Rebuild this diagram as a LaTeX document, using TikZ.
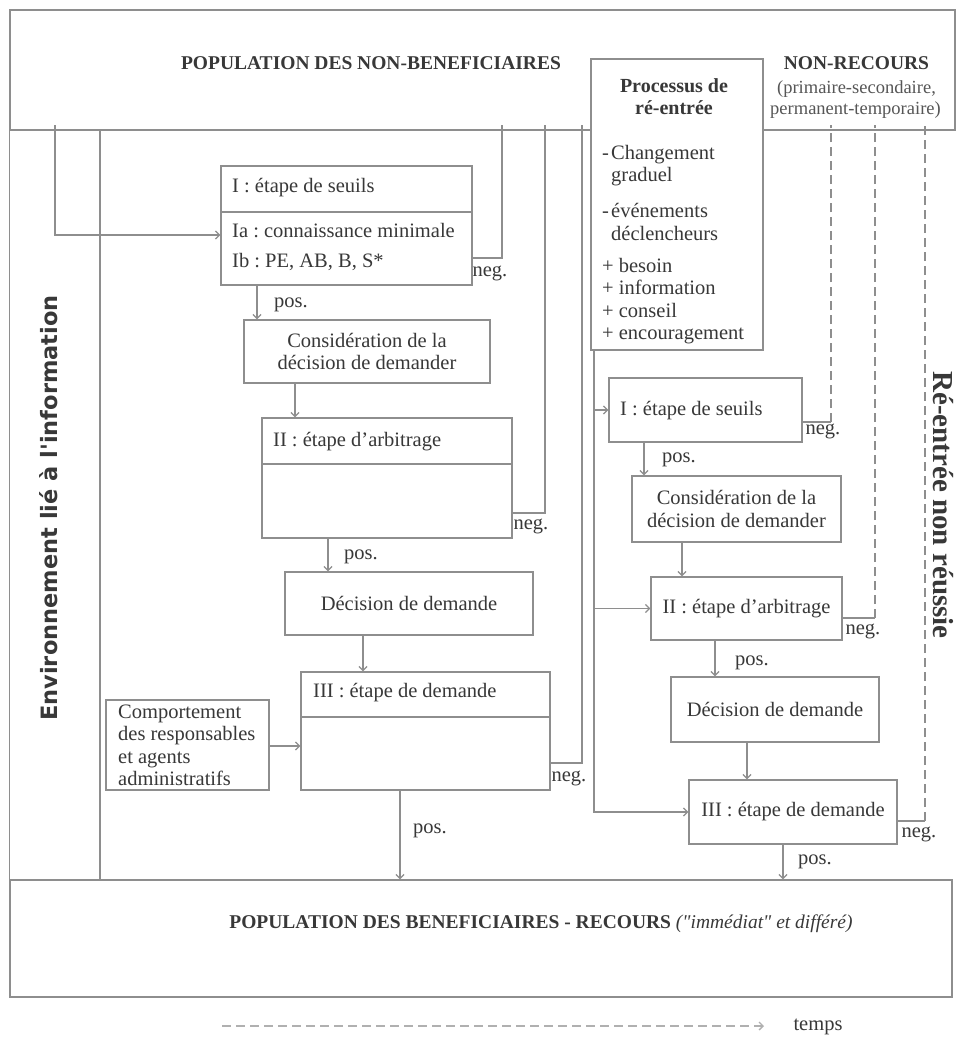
\documentclass[tikz,border=0pt]{standalone}
\usepackage{fontspec}
\setmainfont{Liberation Serif}
\newfontfamily\envfont{DejaVu Sans}
\usetikzlibrary{arrows.meta}
\frenchspacing
\definecolor{linec}{HTML}{8E8E8E}
\definecolor{textc}{HTML}{383838}
\newcommand\bodyfont{\fontsize{20.5}{22.5}\selectfont}
\newcommand\smallfnt{\fontsize{18.5}{21}\selectfont}
\newcommand\titlefnt{\fontsize{19.5}{22}\selectfont\bfseries}
\newcommand\sq{{\addfontfeatures{Ligatures=TeXOff}"}}
\tikzset{
  line/.style={draw=linec, line width=1.3pt},
  box/.style={draw=linec, line width=1.3pt, fill=white, inner sep=0pt, text=textc, font=\bodyfont, align=center},
  arr/.style={line, -{Straight Barb[length=4pt,width=8pt]}},
  dline/.style={line, dash pattern=on 9pt off 5pt},
  txt/.style={text=textc, inner sep=0pt, font=\bodyfont, text height=13.5pt, text depth=4.5pt},
  ttl/.style={text=textc, inner sep=0pt, font=\titlefnt, text height=13.5pt, text depth=4.5pt},
  sml/.style={text=textc!85, inner sep=0pt, font=\smallfnt, text height=12.5pt, text depth=4pt},
}
\begin{document}
\begin{tikzpicture}[x=1pt,y=-1pt]
\useasboundingbox[fill=white] (0,0) rectangle (957,1037);

% ---------- frames ----------
\node[box, minimum width=945pt, minimum height=120pt] (top) at (482.5,70) {};
\node[box, minimum width=942pt, minimum height=117pt] (bot) at (481,938.5) {};
\draw[line] (top.south west) -- (bot.north west);
\coordinate (envT) at (100,130);
\coordinate (envB) at (100,880);
\draw[line] (envT) -- (envB);

% ---------- top texts ----------
\node[ttl] (toptitle) at (371,65) {POPULATION DES NON-BENEFICIAIRES};
\node[ttl] (nonrec) at (856.5,65) {NON-RECOURS};
\node[sml] (nonrecA) at (856.5,89) {(primaire-secondaire,};
\node[sml] (nonrecB) at (855.5,110) {permanent-temporaire)};

% ---------- feedback lines to top ----------
\coordinate (e1) at (55,125);
\coordinate (n1) at (502,125);
\coordinate (n2) at (545,125);
\coordinate (n3) at (582,125);
\coordinate (d1) at (831,125);
\coordinate (d2) at (875,125);
\coordinate (d3) at (925,125);

% ---------- Processus box ----------
\node[box, minimum width=172pt, minimum height=291pt] (proc) at (677,204.5) {};
\node[ttl, font=\fontsize{20}{22}\selectfont\bfseries] (procA) at (674,88) {Processus de};
\node[ttl, font=\fontsize{20}{22}\selectfont\bfseries] (procB) at (674,110) {ré-entrée};
\node[txt, anchor=west] (p1a) at (602,155) {-};
\node[txt, anchor=west] (p1b) at (611,155) {Changement};
\node[txt, anchor=west] (p1c) at (611,177) {graduel};
\node[txt, anchor=west] (p2a) at (602,213) {-};
\node[txt, anchor=west] (p2b) at (611,213) {événements};
\node[txt, anchor=west] (p2c) at (611,236) {déclencheurs};
\node[txt, anchor=west] (p3) at (602,268) {+ besoin};
\node[txt, anchor=west] (p4) at (602,290) {+ information};
\node[txt, anchor=west] (p5) at (602,313) {+ conseil};
\node[txt, anchor=west] (p6) at (602,335) {+ encouragement};

% ---------- left column ----------
\node[box, minimum width=251pt, minimum height=119pt] (boxI) at (346.5,225.5) {};
\draw[line] (boxI.west |- 0,212) -- (boxI.east |- 0,212);
\node[txt, anchor=west] (boxIa) at (232,188) {I : étape de seuils};
\node[txt, anchor=west] (boxIb) at (232,233) {Ia : connaissance minimale};
\node[txt, anchor=west] (boxIc) at (232,263) {Ib : PE, AB, B, S*};

\node[box, minimum width=246pt, minimum height=63pt] (consL) at (367,351.5) {Considération de la\\décision de demander};

\node[box, minimum width=250pt, minimum height=120pt] (boxII) at (387,478) {};
\draw[line] (boxII.west |- 0,464) -- (boxII.east |- 0,464);
\node[txt, anchor=west] (boxIIa) at (273,442) {II : étape d'arbitrage};

\node[box, minimum width=248pt, minimum height=63pt] (decL) at (409,603.5) {Décision de demande};

\node[box, minimum width=249pt, minimum height=118pt] (boxIII) at (425.5,731) {};
\draw[line] (boxIII.west |- 0,717) -- (boxIII.east |- 0,717);
\node[txt, anchor=west] (boxIIIa) at (313,693) {III : étape de demande};

\node[box, minimum width=163pt, minimum height=90pt] (comp) at (187.5,745) {};
\node[anchor=north west, align=left, inner sep=0pt, text=textc, font=\bodyfont] (compt) at (118,704.5) {Comportement\\des responsables\\et agents\\administratifs};

% left connectors
\draw[arr] (e1) |- (boxI.west |- 0,235);
\draw[line] (boxI.east |- 0,258) -| (n1);
\node[txt] (negI) at (490,272) {neg.};
\draw[arr] (boxI.south -| 257,0) -- (consL.north -| 257,0);
\node[txt] (posI) at (291,303) {pos.};
\draw[arr] (consL.south -| 295,0) -- (boxII.north -| 295,0);
\draw[line] (boxII.east |- 0,513) -| (n2);
\node[txt] (negII) at (531,525) {neg.};
\draw[arr] (boxII.south -| 328,0) -- (decL.north -| 328,0);
\node[txt] (posII) at (361,555) {pos.};
\draw[arr] (decL.south -| 363,0) -- (boxIII.north -| 363,0);
\draw[line] (boxIII.east |- 0,763) -| (n3);
\node[txt] (negIII) at (569,777) {neg.};
\draw[arr] (comp.east |- 0,746) -- (boxIII.west |- 0,746);
\draw[arr] (boxIII.south -| 400,0) -- (bot.north -| 400,0);
\node[txt] (posIII) at (430,829) {pos.};

% ---------- right column ----------
\node[box, minimum width=193pt, minimum height=64pt] (rI) at (705.5,410) {};
\node[txt, anchor=west] (rIa) at (620,411) {I : étape de seuils};
\node[box, minimum width=209pt, minimum height=66pt] (rCons) at (736.5,509) {Considération de la\\décision de demander};
\node[box, minimum width=191pt, minimum height=63pt] (rII) at (746.5,608.5) {II : étape d'arbitrage};
\node[box, minimum width=208pt, minimum height=65pt] (rDec) at (775,709.5) {Décision de demande};
\node[box, minimum width=208pt, minimum height=64pt] (rIII) at (793,812) {III : étape de demande};

% feed line from Processus
\coordinate (f1) at (594,410);
\coordinate (f2) at (594,608.5);
\draw[arr] (proc.south -| 594,0) |- (rIII.west);
\draw[arr] (f1) -- (rI.west);
\draw[arr] (f2) -- (rII.west);

% right connectors
\coordinate (d1c) at (831,422);
\draw[line] (rI.east |- d1c) -- (d1c);
\draw[dline] (d1c) -- (d1);
\node[txt] (rnegI) at (823,430) {neg.};
\draw[arr] (rI.south -| 644,0) -- (rCons.north -| 644,0);
\node[txt] (rposI) at (679,458) {pos.};
\draw[arr] (rCons.south -| 682,0) -- (rII.north -| 682,0);
\coordinate (d2c) at (875,618);
\draw[line] (rII.east |- d2c) -- (d2c);
\draw[dline] (d2c) -- (d2);
\node[txt] (rnegII) at (863,630) {neg.};
\draw[arr] (rII.south -| 715,0) -- (rDec.north -| 715,0);
\node[txt] (rposII) at (752,661) {pos.};
\draw[arr] (rDec.south -| 747,0) -- (rIII.north -| 747,0);
\coordinate (d3c) at (925,821);
\draw[line] (rIII.east |- d3c) -- (d3c);
\draw[dline] (d3c) -- (d3);
\node[txt] (rnegIII) at (919,833) {neg.};
\draw[arr] (rIII.south -| 783,0) -- (bot.north -| 783,0);
\node[txt] (rposIII) at (815,860) {pos.};

% ---------- rotated side texts ----------
\node[rotate=90, inner sep=0pt, text=textc, font=\envfont\bfseries\fontsize{22.5}{24}\selectfont] (env) at (49,508) {Environnement lié à l'information};
\node[rotate=-90, inner sep=0pt, text=textc, font=\fontsize{29}{31}\selectfont\bfseries] (reent) at (943,505) {Ré-entrée non réussie};

% ---------- bottom ----------
\node[ttl] (bottitle) at (541,924) {POPULATION DES BENEFICIAIRES - RECOURS \textmd{\itshape(\sq immédiat\sq{} et différé)}};
\coordinate (t0) at (222,1026);
\coordinate (t1) at (764,1026);
\draw[dline, draw=linec!70, -{Straight Barb[length=4pt,width=8pt]}] (t0) -- (t1);
\node[txt] (temps) at (818,1026) {temps};
\end{tikzpicture}
\end{document}
